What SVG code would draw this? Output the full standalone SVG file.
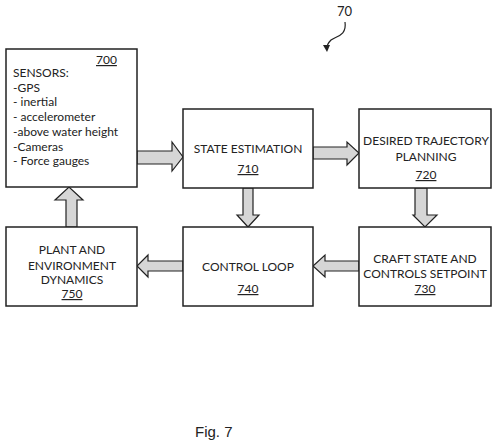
<svg xmlns="http://www.w3.org/2000/svg" width="501" height="443" viewBox="0 0 501 443">
<style>
.box{fill:#fff;stroke:#222;stroke-width:1.5}
.t{font-family:Lato,"Liberation Sans",sans-serif;font-size:12px;fill:#222}
.c{text-anchor:middle}
.u{text-decoration:underline}
.arr{fill:#d6d6d6;stroke:#222;stroke-width:1.2;stroke-linejoin:miter}
</style>
<rect width="501" height="443" fill="#fff"/>
<g id="connectors">
<path class="arr" d="M137,151 H172 V142 L183,157 L172,171 V164 H137 Z"/>
<path class="arr" d="M313,147 H347 V142 L359,153 L347,165 V159 H313 Z"/>
<path class="arr" d="M243,188 V215 H237 L248,227 L259,215 H253 V188 Z"/>
<path class="arr" d="M415,188 V215 H413 L425,227 L437,215 H427 V188 Z"/>
<path class="arr" d="M183,261 H148 V255 L137,266 L148,277 V271 H183 Z"/>
<path class="arr" d="M359,261 H325 V255 L313,266 L325,277 V271 H359 Z"/>
<path class="arr" d="M66,227 V200 H55 L69,187 L83,200 H77 V227 Z"/>
</g>
<g id="n700">
<rect class="box" x="6" y="49" width="131" height="138"/>
<text class="t u" x="96" y="64">700</text>
<text class="t" x="13" y="77">SENSORS:</text>
<text class="t" x="13" y="91.7">-GPS</text>
<text class="t" x="13" y="106.4">- inertial</text>
<text class="t" x="13" y="121">- accelerometer</text>
<text class="t" x="13" y="135.8">-above water height</text>
<text class="t" x="13" y="150.5">-Cameras</text>
<text class="t" x="13" y="165.2">- Force gauges</text>
</g>
<g id="n710">
<rect class="box" x="183" y="109" width="130" height="79"/>
<text class="t c" x="248" y="153">STATE ESTIMATION</text>
<text class="t c u" x="248" y="173">710</text>
</g>
<g id="n720">
<rect class="box" x="359" y="109" width="132" height="79"/>
<text class="t c" x="426" y="145">DESIRED TRAJECTORY</text>
<text class="t c" x="426" y="161">PLANNING</text>
<text class="t c u" x="426" y="179">720</text>
</g>
<g id="n750">
<rect class="box" x="6" y="227" width="131" height="79"/>
<text class="t c" x="72" y="254">PLANT AND</text>
<text class="t c" x="72" y="269.5">ENVIRONMENT</text>
<text class="t c" x="72" y="284">DYNAMICS</text>
<text class="t c u" x="72" y="298">750</text>
</g>
<g id="n740">
<rect class="box" x="183" y="227" width="130" height="79"/>
<text class="t c" x="248" y="271">CONTROL LOOP</text>
<text class="t c u" x="248" y="293">740</text>
</g>
<g id="n730">
<rect class="box" x="359" y="227" width="132" height="79"/>
<text class="t c" x="425" y="263">CRAFT STATE AND</text>
<text class="t c" x="425" y="278">CONTROLS SETPOINT</text>
<text class="t c u" x="425" y="293">730</text>
</g>
<g id="ref70">
<text class="t" x="337" y="16" style="font-size:13px">70</text>
<path d="M345,22 C347,36 336,36 331,40 C328,43 327,46 327,48" fill="none" stroke="#222" stroke-width="1.2"/>
<path d="M323,45 L327,52 L330,45 Z" fill="#222"/>
</g>
<text class="t" x="195" y="437" style="font-size:15px;font-family:'Liberation Sans',sans-serif">Fig. 7</text>
</svg>
